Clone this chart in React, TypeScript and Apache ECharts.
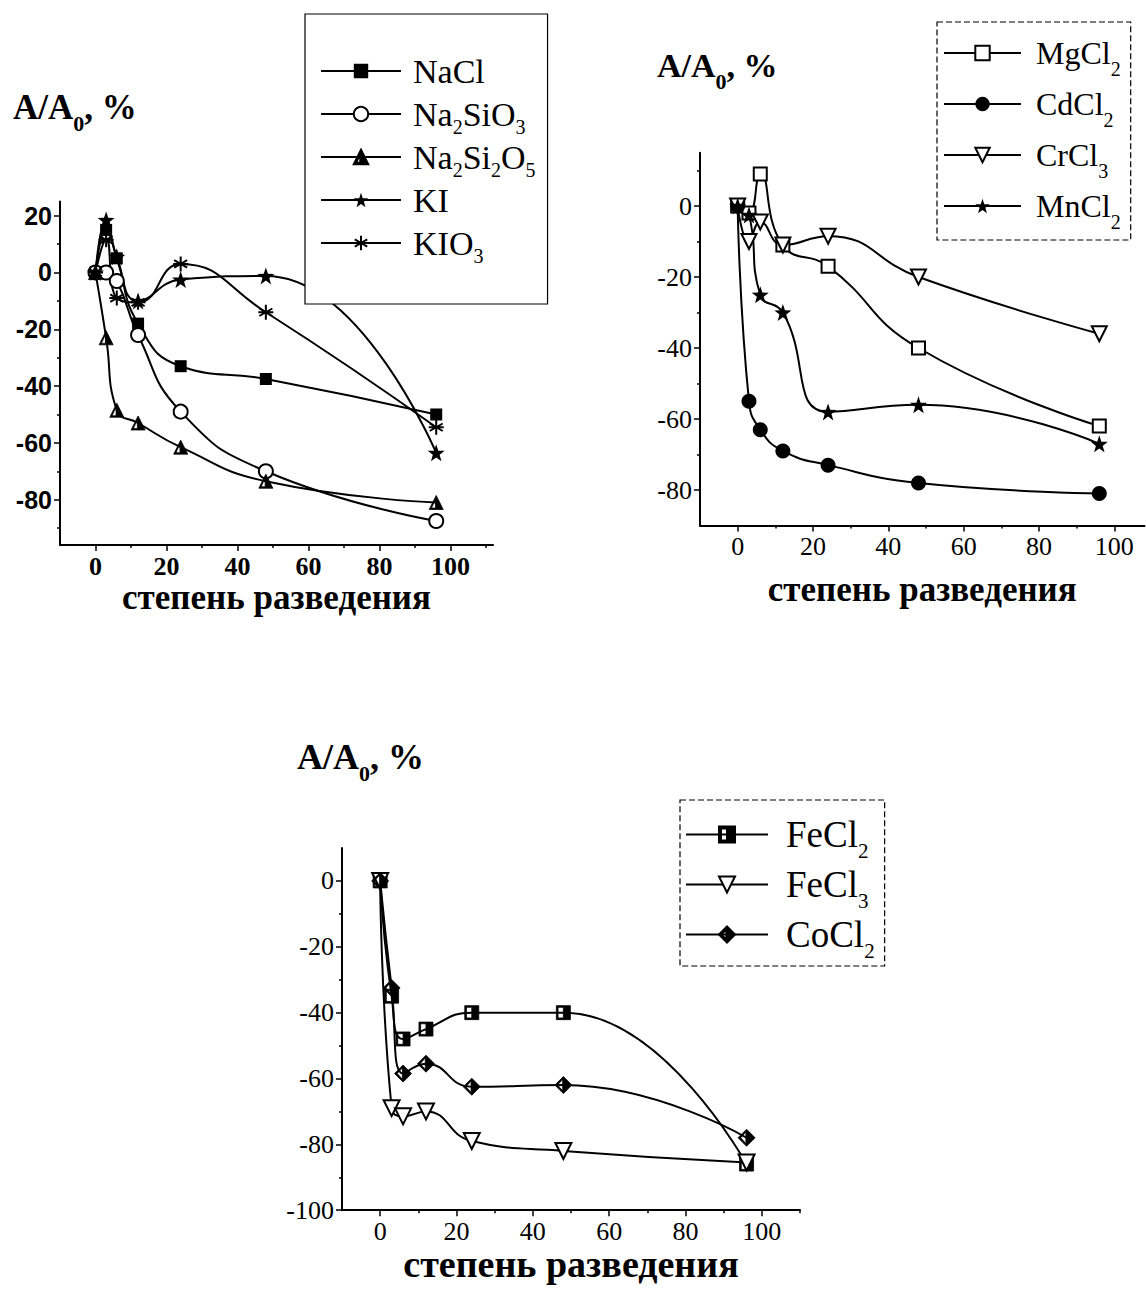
import React, { useEffect, useRef } from 'react';
import * as echarts from 'echarts';

// ---------- data ----------
const dilution = [0, 3, 6, 12, 24, 48, 96];

// panel A (top-left)
const naCl = [0, 15, 5, -18, -33, -37.5, -50];
const na2SiO3 = [0, 0, -3, -22, -49, -70, -87.5];
const na2Si2O5 = [0, -23, -48.5, -53, -61.5, -73.5, -81];
const kI = [0, 18.5, 5.5, -10, -2.5, -1.2, -63.5];
const kIO3 = [0, 11.5, -9, -10.5, 3, -14, -54.5];

// panel B (top-right)
const mgCl2 = [0, -2, 9, -11, -17, -40, -62];
const cdCl2 = [0, -55, -63, -69, -73, -78, -81];
const crCl3 = [0, -10, -4.5, -11, -8.5, -20, -36];
const mnCl2 = [0, -2.5, -25, -30, -58, -56, -67];

// panel C (bottom)
const feCl2 = [0, -35, -48, -45, -40, -40, -86];
const feCl3 = [0, -69, -71.5, -70, -79, -82, -85.5];
const coCl2 = [0, -32.5, -58.5, -55.5, -62.5, -62, -78];

// ticks
const X_MAJOR = [0, 20, 40, 60, 80, 100];
const X_MINOR = [10, 30, 50, 70, 90, 110];
const Y_MAJOR_A = [-80, -60, -40, -20, 0, 20];
const Y_MINOR_A = [-90, -70, -50, -30, -10, 10];
const Y_MAJOR_B = [-80, -60, -40, -20, 0];
const Y_MINOR_B = [-70, -50, -30, -10, 10];
const Y_MAJOR_C = [-100, -80, -60, -40, -20, 0];
const Y_MINOR_C = [-90, -70, -50, -30, -10];

const X_NAME = 'степень разведения';
const Y_TITLE = '{m|A/A}{s|0}{m|, %}';

const LEGEND_TEXT: Record<string, string> = {
  NaCl: '{f|NaCl}{s| }',
  Na2SiO3: '{f|Na}{s|2}{m|SiO}{s|3}',
  Na2Si2O5: '{f|Na}{s|2}{m|Si}{s|2}{m|O}{s|5}',
  KI: '{f|KI}{s| }',
  KIO3: '{f|KIO}{s|3}',
  MgCl2: '{f|MgCl}{s|2}',
  CdCl2: '{f|CdCl}{s|2}',
  CrCl3: '{f|CrCl}{s|3}',
  MnCl2: '{f|MnCl}{s|2}',
  FeCl2: '{f|FeCl}{s|2}',
  FeCl3: '{f|FeCl}{s|3}',
  CoCl2: '{f|CoCl}{s|2}',
};

// ---------- styles ----------
const SERIF = "'Liberation Serif', 'Times New Roman', serif";
const SANS = "'Liberation Sans', Arial, sans-serif";

const STAR = 'path://M10,0 L12.35,6.76 L19.51,6.91 L13.8,11.24 L15.88,18.09 L10,14 L4.12,18.09 L6.2,11.24 L0.49,6.91 L7.65,6.76 Z';
const ASTER = 'path://M10,0 L10,20 M1.34,5 L18.66,15 M1.34,15 L18.66,5 M0,10 L20,10';
const HALF_TRI = 'path://M5,0 L10,10 L0,10 Z M4.5,2.6 L1.6,9 L4.5,9 Z';
const HALF_RECT = 'path://M0,0 L10,0 L10,10 L0,10 Z M1.2,1.2 L1.2,8.8 L5,8.8 L5,1.2 Z';
const HALF_DIAMOND = 'path://M5,0 L10,5 L5,10 L0,5 Z M4.6,1.6 L1.6,5 L4.6,8.4 Z';

const pts = (ys: number[]) => dilution.map((x, i) => [x, ys[i]]);

function lineSeries(
  name: string,
  ys: number[],
  axis: number,
  symbol: string,
  size: number,
  opts: { rotate?: number; border?: number } = {}
) {
  return {
    type: 'line',
    name,
    xAxisIndex: axis,
    yAxisIndex: axis,
    data: pts(ys),
    smooth: 0.5,
    symbol,
    symbolSize: size,
    symbolRotate: opts.rotate ?? 0,
    showAllSymbol: true,
    lineStyle: { color: '#000', width: 2 },
    itemStyle: { color: '#000', borderColor: '#000', borderWidth: opts.border ?? 0 },
    emphasis: { disabled: true },
    z: 3,
  };
}

function xAxes(gridIndex: number, min: number, max: number, label: any, nameGap: number, nameSize: number) {
  const inRange = (v: number) => v >= min && v <= max;
  return [
    {
      type: 'value', gridIndex, min, max, position: 'bottom',
      axisLine: { onZero: false, lineStyle: { color: '#000', width: 2 } },
      axisTick: { show: true, inside: false, length: 6, lineStyle: { color: '#000', width: 1.5 }, customValues: X_MAJOR.filter(inRange) },
      axisLabel: { customValues: X_MAJOR.filter(inRange), margin: 8, color: '#000', ...label },
      splitLine: { show: false },
      name: X_NAME, nameLocation: 'middle', nameGap,
      nameTextStyle: { fontFamily: SERIF, fontWeight: 'bold', fontSize: nameSize, color: '#000' },
    },
    {
      type: 'value', gridIndex, min, max, position: 'bottom',
      axisLine: { show: false, onZero: false },
      axisTick: { show: true, inside: false, length: 3, lineStyle: { color: '#000', width: 1.5 }, customValues: X_MINOR.filter(inRange) },
      axisLabel: { show: false },
      splitLine: { show: false },
    },
  ];
}

function yAxes(gridIndex: number, min: number, max: number, major: number[], minor: number[], label: any) {
  const inRange = (v: number) => v >= min && v <= max;
  return [
    {
      type: 'value', gridIndex, min, max, position: 'left',
      axisLine: { onZero: false, lineStyle: { color: '#000', width: 2 } },
      axisTick: { show: true, inside: false, length: 6, lineStyle: { color: '#000', width: 1.5 }, customValues: major.filter(inRange) },
      axisLabel: { customValues: major.filter(inRange), margin: 8, color: '#000', ...label },
      splitLine: { show: false },
    },
    {
      type: 'value', gridIndex, min, max, position: 'left',
      axisLine: { show: false, onZero: false },
      axisTick: { show: true, inside: false, length: 3, lineStyle: { color: '#000', width: 1.5 }, customValues: minor.filter(inRange) },
      axisLabel: { show: false },
      splitLine: { show: false },
    },
  ];
}

function legendRich(size: number, sub: number, gap: number, lh: number) {
  return {
    f: { fontFamily: SERIF, fontSize: size, color: '#000', lineHeight: lh, padding: [0, 0, 0, gap] },
    m: { fontFamily: SERIF, fontSize: size, color: '#000', lineHeight: lh },
    s: { fontFamily: SERIF, fontSize: sub, color: '#000', lineHeight: lh, height: 4, verticalAlign: 'bottom' },
  };
}

function legend(names: string[], left: number, top: number, padding: number[], itemGap: number, itemWidth: number, itemHeight: number, rich: any, dashed: boolean) {
  return {
    orient: 'vertical',
    left, top, padding, itemGap, itemWidth, itemHeight,
    data: names,
    selectedMode: false,
    backgroundColor: '#fff',
    borderColor: '#000',
    borderWidth: 1.2,
    borderType: dashed ? [6, 3] : 'solid',
    formatter: (n: string) => LEGEND_TEXT[n] ?? n,
    textStyle: { fontFamily: SERIF, color: '#000', rich },
    itemStyle: { borderColor: '#000' },
    z: 10,
  };
}

function title(left: number, top: number, size: number, sub: number) {
  return {
    text: Y_TITLE,
    left, top, padding: 0,
    textStyle: {
      fontFamily: SERIF, fontWeight: 'bold', fontSize: size, color: '#000',
      rich: {
        m: { fontFamily: SERIF, fontWeight: 'bold', fontSize: size, color: '#000', lineHeight: 36 },
        s: { fontFamily: SERIF, fontWeight: 'bold', fontSize: sub, color: '#000', lineHeight: 36, height: 4, verticalAlign: 'bottom' },
      },
    },
  };
}

const labelA_y = { fontFamily: SANS, fontWeight: 'bold', fontSize: 25 };
const labelA_x = { fontFamily: SERIF, fontWeight: 'bold', fontSize: 26 };
const labelB = { fontFamily: SERIF, fontSize: 26 };
const labelC = { fontFamily: SERIF, fontSize: 26 };

const option: any = {
  animation: false,
  backgroundColor: '#fff',
  title: [
    title(13, 89, 35, 22),
    title(657, 47, 34, 22),
    title(297, 739, 36, 22),
  ],
  grid: [
    { left: 60, top: 201.5, width: 433, height: 343.6 },
    { left: 700, top: 152.75, width: 444.5, height: 372.75 },
    { left: 342, top: 848, width: 458, height: 362.2 },
  ],
  xAxis: [
    ...xAxes(0, -10, 112, labelA_x, 31, 35),
    ...xAxes(1, -10, 108, labelB, 46, 35),
    ...xAxes(2, -10, 110, labelC, 32, 38),
  ],
  yAxis: [
    ...yAxes(0, -96, 25, Y_MAJOR_A, Y_MINOR_A, labelA_y),
    ...yAxes(1, -90, 15, Y_MAJOR_B, Y_MINOR_B, labelB),
    ...yAxes(2, -100, 10, Y_MAJOR_C, Y_MINOR_C, labelC),
  ],
  legend: [
    legend(['NaCl', 'Na2SiO3', 'Na2Si2O5', 'KI', 'KIO3'], 305, 14, [40, 12, 38, 15], 3, 80, 18, legendRich(34, 20, 7, 30), false),
    legend(['MgCl2', 'CdCl2', 'CrCl3', 'MnCl2'], 937, 22, [15, 10, 8, 6], 9, 77, 18, legendRich(32, 20, 10, 36), true),
    legend(['FeCl2', 'FeCl3', 'CoCl2'], 680, 800, [16, 10, 5, 5], 5, 82, 20, legendRich(37, 21, 13, 36), true),
  ],
  series: [
    lineSeries('NaCl', naCl, 0, 'rect', 12),
    lineSeries('Na2SiO3', na2SiO3, 0, 'emptyCircle', 14, { border: 1.5 }),
    lineSeries('Na2Si2O5', na2Si2O5, 0, HALF_TRI, 14, { border: 0.8 }),
    lineSeries('KI', kI, 0, STAR, 17),
    lineSeries('KIO3', kIO3, 0, ASTER, 15, { border: 2 }),

    lineSeries('MgCl2', mgCl2, 2, 'emptyRect', 13, { border: 1.5 }),
    lineSeries('CdCl2', cdCl2, 2, 'circle', 15),
    lineSeries('CrCl3', crCl3, 2, 'emptyTriangle', 15, { rotate: 180, border: 1.5 }),
    lineSeries('MnCl2', mnCl2, 2, STAR, 17),

    lineSeries('FeCl2', feCl2, 4, HALF_RECT, 14, { border: 0.8 }),
    lineSeries('FeCl3', feCl3, 4, 'emptyTriangle', 16, { rotate: 180, border: 1.5 }),
    lineSeries('CoCl2', coCl2, 4, HALF_DIAMOND, 17, { border: 0.8 }),
  ],
};

export default function App() {
  const ref = useRef<HTMLDivElement>(null);
  useEffect(() => {
    if (!ref.current) return;
    const chart = echarts.init(ref.current, null, { renderer: 'svg' });
    chart.setOption(option);
    return () => chart.dispose();
  }, []);
  return (
    <div
      ref={ref}
      style={{ position: 'absolute', left: 0, top: 0, width: 1146, height: 1290, background: '#fff' }}
    />
  );
}
